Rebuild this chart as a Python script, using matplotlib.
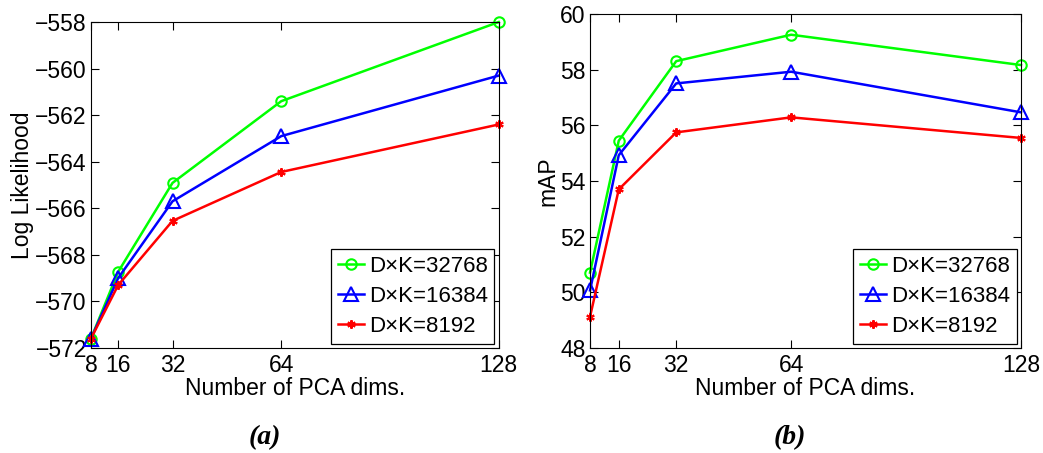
import numpy as np
import matplotlib
matplotlib.use("Agg")
import matplotlib.pyplot as plt

plt.rcParams['font.family'] = ['Liberation Sans', 'DejaVu Sans']

dims = [8, 16, 32, 64, 128]
labels = ['D\u00d7K=32768', 'D\u00d7K=16384', 'D\u00d7K=8192']

# (a) log likelihood
ll_32768 = [-571.6, -568.73, -564.91, -561.4, -558.0]
ll_16384 = [-571.6, -569.0, -565.7, -562.9, -560.3]
ll_8192 = [-571.6, -569.3, -566.54, -564.44, -562.4]

# (b) mAP
map_32768 = [50.71, 55.45, 58.31, 59.26, 58.17]
map_16384 = [50.07, 54.93, 57.51, 57.93, 56.47]
map_8192 = [49.12, 53.70, 55.75, 56.29, 55.55]

colors = ['#00ff00', '#0000ff', '#ff0000']
markers = ['o', '^', (6, 2, 0)]
msizes = [7.5, 10, 6]

fig = plt.figure(figsize=(10.43, 4.53), dpi=100)
ax1 = fig.add_axes([0.0872, 0.2318, 0.391, 0.7196])
ax2 = fig.add_axes([0.5657, 0.2318, 0.4132, 0.737])


def draw(ax, series, ylim, yticks, ylabel):
    for s, c, m, ms, lab in zip(series, colors, markers, msizes, labels):
        ax.plot(dims, s, color=c, marker=m, markersize=ms, markerfacecolor='none',
                markeredgecolor=c, markeredgewidth=1.5, linewidth=1.8, label=lab,
                clip_on=False)
    ax.set_xlim(8, 128)
    ax.set_ylim(*ylim)
    ax.set_xticks(dims)
    ax.set_yticks(yticks)
    ax.tick_params(direction='in', top=True, right=True, labelsize=16.5,
                   length=6, width=0.8)
    ax.tick_params(axis='x', pad=4)
    ax.tick_params(axis='y', pad=3)
    ax.set_xlabel('Number of PCA dims.', fontsize=16.5, labelpad=0)
    ax.set_ylabel(ylabel, fontsize=16.5, labelpad=1)
    for sp in ax.spines.values():
        sp.set_linewidth(0.8)
    leg = ax.legend(loc='lower right', fontsize=16, frameon=True, fancybox=False,
                    edgecolor='black', framealpha=1, handlelength=1.2,
                    handletextpad=0.2, borderpad=0.3, labelspacing=0.4,
                    borderaxespad=0.2)
    leg.get_frame().set_linewidth(0.9)


draw(ax1, [ll_32768, ll_16384, ll_8192], (-572, -558),
     np.arange(-572, -557, 2), 'Log Likelihood')
draw(ax2, [map_32768, map_16384, map_8192], (48, 60),
     np.arange(48, 61, 2), 'mAP')

fig.text(0.254, 0.02, '(a)', fontsize=20, family='Liberation Serif',
         style='italic', weight='bold', ha='center')
fig.text(0.757, 0.02, '(b)', fontsize=20, family='Liberation Serif',
         style='italic', weight='bold', ha='center')

fig.savefig('out.png', dpi=100)
